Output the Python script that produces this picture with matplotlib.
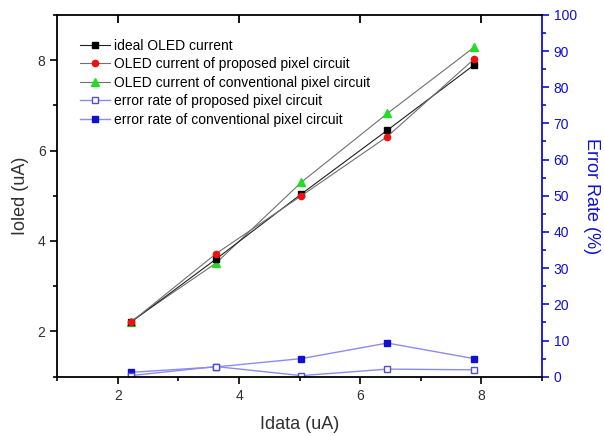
import numpy as np
import matplotlib
matplotlib.use('Agg')
import matplotlib.pyplot as plt
from matplotlib.ticker import MultipleLocator

plt.rcParams['font.family'] = ['Liberation Sans', 'DejaVu Sans']

# data
Idata = [2.21, 3.62, 5.03, 6.45, 7.88]
Ioled_Ideal = [2.2, 3.60, 5.04, 6.45, 7.89]
Ioled_Proposed = [2.2, 3.72, 5.00, 6.31, 8.02]
Ioled_Conventional = [2.22, 3.51, 5.30, 6.82, 8.28]
Error_Proposed = [0.3, 2.8, 0.3, 2.1, 1.9]
Error_Conventional = [1.2, 2.7, 5.0, 9.3, 5.0]

Labels = ['ideal OLED current',
          'OLED current of proposed pixel circuit',
          'OLED current of conventional pixel circuit',
          'error rate of proposed pixel circuit',
          'error rate of conventional pixel circuit']

Blue = '#1010d0'
Light_Blue = '#8c8cf0'
Text_Gray = '#303030'

Rect = [0.095, 0.136, 0.802, 0.830]
fig = plt.figure(figsize=(6.04, 4.36), dpi=100)
ax = fig.add_axes(Rect)
ax2 = ax.twinx()

l1, = ax.plot(Idata, Ioled_Ideal, '-s', color='#202020', lw=0.8,
              mfc='black', mec='black', ms=4.5, zorder=3)
l2, = ax.plot(Idata, Ioled_Proposed, '-o', color='#707070', lw=0.8,
              mfc='#ee1111', mec='#ee1111', ms=4.5, zorder=4)
l3, = ax.plot(Idata, Ioled_Conventional, '-^', color='#707070', lw=0.8,
              mfc='#22dd22', mec='#22dd22', ms=5.5, zorder=2)

l5, = ax2.plot(Idata, Error_Conventional, '-s', color=Light_Blue, lw=1.0,
               mfc=Blue, mec=Blue, ms=4.5, zorder=2)
l4, = ax2.plot(Idata, Error_Proposed, '-s', color=Light_Blue, lw=1.0,
               mfc='white', mec='#5050d0', ms=4.5, zorder=3)

ax.set_xlim(1, 9)
ax.set_ylim(1, 9)
ax2.set_ylim(0, 100)

ax.xaxis.set_major_locator(MultipleLocator(2))
ax.xaxis.set_minor_locator(MultipleLocator(1))
ax.yaxis.set_major_locator(MultipleLocator(2))
ax.yaxis.set_minor_locator(MultipleLocator(1))
ax2.yaxis.set_major_locator(MultipleLocator(10))
ax2.yaxis.set_minor_locator(MultipleLocator(5))

ax.tick_params(axis='both', which='major', direction='out', length=5, width=1.2,
               labelsize=10, labelcolor=Text_Gray)
ax.tick_params(axis='both', which='minor', direction='out', length=3, width=1.2)
ax2.tick_params(axis='y', which='major', direction='out', length=5, width=1.2,
                colors=Blue, labelsize=10)
ax2.tick_params(axis='y', which='minor', direction='out', length=3, width=1.2, colors=Blue)

for s in ['left', 'bottom', 'top']:
    ax.spines[s].set_linewidth(1.3)
ax2.spines['right'].set_color(Blue)
ax2.spines['right'].set_linewidth(1.3)
ax.spines['right'].set_visible(False)
for s in ['left', 'bottom', 'top']:
    ax2.spines[s].set_visible(False)

ax.set_xlabel('Idata (uA)', fontsize=13, color=Text_Gray, labelpad=10)
ax.set_ylabel('Ioled (uA)', fontsize=13, color=Text_Gray, labelpad=6)
ax2.set_ylabel('Error Rate (%)', fontsize=13, color=Blue, rotation=-90, labelpad=17)

ax.legend([l1, l2, l3, l4, l5], Labels, loc='upper left', bbox_to_anchor=(0.02, 0.968),
          frameon=False, fontsize=10, handlelength=2.2, handletextpad=0.3,
          labelspacing=0.32, borderaxespad=0.5)
ax.set_zorder(ax2.get_zorder() + 1)
ax.patch.set_visible(False)

# top edge: inward tick marks at the major x tick positions
Top_Ticks = [t for t in ax.get_xticks() if ax.get_xlim()[0] < t < ax.get_xlim()[1]]
ax.plot(Top_Ticks, [1.0] * len(Top_Ticks), ls='none', marker=3, ms=6, mew=1.3,
        color='black', transform=ax.get_xaxis_transform(), clip_on=False, zorder=10)

plt.savefig('out.png', dpi=100)
